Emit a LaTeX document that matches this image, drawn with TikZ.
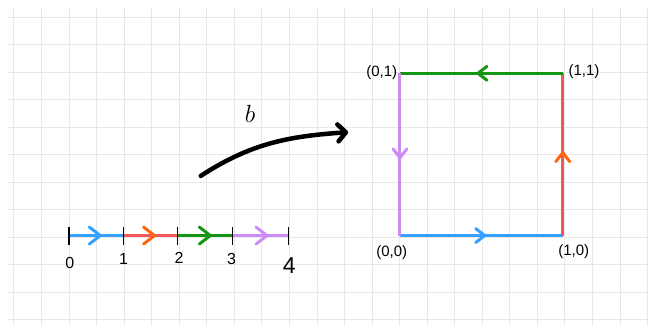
\documentclass[tikz,border=0pt]{standalone}
\usepackage{fontspec}
\setmainfont{Liberation Sans}
\usetikzlibrary{arrows.meta,decorations.markings}

\definecolor{gridgray}{RGB}{232,232,232}
\definecolor{pathblue}{RGB}{52,160,255}
\definecolor{pathred}{RGB}{240,88,88}
\definecolor{tiporange}{RGB}{255,102,17}
\definecolor{pathgreen}{RGB}{20,150,20}
\definecolor{pathpurple}{RGB}{205,140,245}

\tikzset{
  gridline/.style={gridgray, line width=1pt},
  pathseg/.style={line width=3pt},
  tickmark/.style={black, line width=1.3pt},
  linearrow/.style 2 args={decoration={markings,
      mark=at position #1 with {\arrow{Straight Barb[round, length=11pt, width=17pt, color=#2]}}},
    postaction={decorate}},
  squarearrow/.style 2 args={decoration={markings,
      mark=at position #1 with {\arrow{Straight Barb[round, length=9pt, width=14pt, color=#2]}}},
    postaction={decorate}},
  ticklabel/.style={font=\fontsize{16}{16}\selectfont},
  cornerlabel/.style={font=\fontsize{15}{15}\selectfont},
}

\begin{document}
\begin{tikzpicture}[x=27.55pt, y=27.5pt]
    \useasboundingbox (-0.508,-0.218) rectangle (23.05,11.636);

    % Squared paper
    \draw[gridline, step=1] (-0.218,-0.3) grid (23.2,11.38);

    % Interval [0,4] with its four pieces
    \coordinate (t0) at (2.0,3.07);
    \coordinate (t1) at (3.98,3.07);
    \coordinate (t2) at (5.94,3.07);
    \coordinate (t3) at (7.94,3.07);
    \coordinate (t4) at (9.97,3.07);
    \draw[pathseg, pathblue, linearrow={0.6}{pathblue}] (t0) -- (t1);
    \draw[pathseg, pathred, linearrow={0.6}{tiporange}] (t1) -- (t2);
    \draw[pathseg, pathgreen, linearrow={0.62}{pathgreen}] (t2) -- (t3);
    \draw[pathseg, pathpurple, linearrow={0.64}{pathpurple}] (t3) -- (t4);
    \draw[tickmark] (t0) ++(0,0.31) -- ++(0,-0.65);
    \draw[tickmark] (t1) ++(0,0.31) -- ++(0,-0.65);
    \draw[tickmark] (t2) ++(0,0.31) -- ++(0,-0.65);
    \draw[tickmark] (t3) ++(0,0.31) -- ++(0,-0.65);
    \draw[tickmark] (t4) ++(0,0.31) -- ++(0,-0.65);
    \node[ticklabel] (n0) at (2.03,2.07) {0};
    \node[ticklabel] (n1) at (3.98,2.22) {1};
    \node[ticklabel] (n2) at (5.99,2.26) {2};
    \node[ticklabel] (n3) at (7.90,2.22) {3};
    \node[font=\fontsize{23}{23}\selectfont] (n4) at (9.99,1.96) {4};

    % The map b
    \coordinate (bstart) at (6.78,5.24);
    \coordinate (bend) at (12.13,6.83);
    \draw[line width=4.5pt, line cap=round, -{Straight Barb[round, length=8pt, width=17pt]}]
        (bstart) to[out=33, in=184] (bend);
    \node[font=\fontsize{26}{26}\selectfont] (blabel) at (8.57,7.49) {$b$};

    % Unit square
    \coordinate (p00) at (14.01,3.07);
    \coordinate (p10) at (19.92,3.07);
    \coordinate (p11) at (19.92,8.97);
    \coordinate (p01) at (14.01,8.97);
    \draw[pathseg, pathblue, squarearrow={0.53}{pathblue}] (p00) -- (p10);
    \draw[pathseg, pathred, squarearrow={0.52}{tiporange}] (p10) -- (p11);
    \draw[pathseg, pathgreen, squarearrow={0.53}{pathgreen}] (p11) -- (p01);
    \draw[pathseg, pathpurple, squarearrow={0.53}{pathpurple}] (p01) -- (p00);
    \node[cornerlabel] (l00) at (13.71,2.44) {(0,0)};
    \node[cornerlabel] (l10) at (20.32,2.49) {(1,0)};
    \node[cornerlabel] (l11) at (20.69,9.02) {(1,1)};
    \node[cornerlabel] (l01) at (13.35,8.99) {(0,1)};
\end{tikzpicture}
\end{document}
